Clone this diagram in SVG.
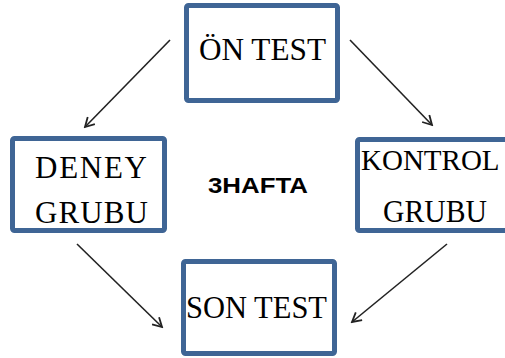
<svg xmlns="http://www.w3.org/2000/svg" width="505" height="358" viewBox="0 0 505 358">
<style>
.box{fill:#fff;stroke:#3f6595;stroke-width:5;}
.lbl{font-family:"Liberation Serif","Times New Roman",serif;font-size:31px;fill:#000;}
.mid{font-family:"Liberation Sans",Arial,sans-serif;font-weight:bold;font-size:22px;fill:#000;}
.conn{stroke:#222;stroke-width:1.6;fill:none;marker-end:url(#ah);}
</style>
<defs>
<marker id="ah" markerWidth="12" markerHeight="12" refX="10" refY="6" orient="auto" markerUnits="userSpaceOnUse">
<path d="M1,1 L10,6 L1,11" fill="none" stroke="#222" stroke-width="1.8"/>
</marker>
</defs>
<rect width="505" height="358" fill="#fff"/>
<g id="connectors">
<line class="conn" x1="170" y1="40" x2="85" y2="127"/>
<line class="conn" x1="350" y1="40" x2="432" y2="125"/>
<line class="conn" x1="77" y1="244" x2="162" y2="327"/>
<line class="conn" x1="447" y1="244" x2="352" y2="322"/>
</g>
<g id="on-test">
<rect class="box" x="186.5" y="5.5" width="151" height="95" rx="2"/>
<text class="lbl" x="199" y="60" textLength="127" lengthAdjust="spacingAndGlyphs">ÖN TEST</text>
</g>
<g id="deney-grubu">
<rect class="box" x="12.5" y="138.5" width="152" height="92" rx="2"/>
<text class="lbl" x="35" y="178" textLength="112" lengthAdjust="spacing">DENEY</text>
<text class="lbl" x="35" y="223" textLength="113" lengthAdjust="spacing">GRUBU</text>
</g>
<g id="kontrol-grubu">
<rect class="box" x="357.5" y="139.5" width="160" height="91" rx="2"/>
<text class="lbl" x="361" y="170" style="font-size:29px">KONTROL</text>
<text class="lbl" x="383" y="222" textLength="104" lengthAdjust="spacingAndGlyphs">GRUBU</text>
</g>
<g id="son-test">
<rect class="box" x="183.5" y="261.5" width="151" height="92" rx="2"/>
<text class="lbl" x="186" y="318" textLength="141" lengthAdjust="spacingAndGlyphs">SON TEST</text>
</g>
<g id="hafta">
<text class="mid" x="208" y="193" textLength="100" lengthAdjust="spacingAndGlyphs">3HAFTA</text>
</g>
</svg>
